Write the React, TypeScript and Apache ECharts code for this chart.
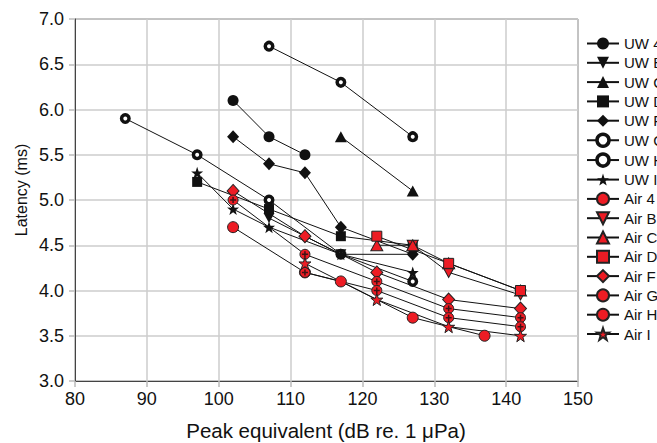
import React, { useEffect, useRef } from "react";
import * as echarts from "echarts";

// Axis settings
const xMin = 80;
const xMax = 150;
const xStep = 10;
const yMin = 3;
const yMax = 7;
const yStep = 0.5;
const xTitle = "Peak equivalent (dB re. 1 \u03bcPa)";
const yTitle = "Latency (ms)";

// Series data: [peak equivalent, latency]
const uw4 = [[102, 6.1], [107, 5.7], [112, 5.5]];
const uwB = [[107, 4.8], [117, 4.4], [127, 4.4]];
const uwC = [[117, 5.7], [127, 5.1]];
const uwD = [[97, 5.2], [107, 4.9], [117, 4.6], [127, 4.5]];
const uwF = [[102, 5.7], [107, 5.4], [112, 5.3], [117, 4.7], [127, 4.4]];
const uwG = [[107, 6.7], [117, 6.3], [127, 5.7]];
const uwH = [[87, 5.9], [97, 5.5], [107, 5.0], [117, 4.4], [127, 4.1]];
const uwI = [[97, 5.3], [102, 4.9], [107, 4.7], [117, 4.4], [127, 4.2]];
const air4 = [[102, 4.7], [112, 4.2], [117, 4.1], [127, 3.7], [137, 3.5]];
const airB = [[127, 4.5], [132, 4.2], [142, 3.95]];
const airC = [[122, 4.5], [127, 4.5], [132, 4.3], [142, 4.0]];
const airD = [[122, 4.6], [132, 4.3], [142, 4.0]];
const airF = [[102, 5.1], [112, 4.6], [122, 4.2], [132, 3.9], [142, 3.8]];
const airG = [[102, 5.0], [112, 4.4], [122, 4.1], [132, 3.8], [142, 3.7]];
const airH = [[112, 4.2], [122, 4.0], [132, 3.7], [142, 3.6]];
const airI = [[112, 4.3], [122, 3.9], [132, 3.6], [142, 3.5]];

const STAR =
  "path://M50,0 L61.8,35.1 L97.6,34.5 L69.1,56.7 L79.4,90.5 L50,70 L20.6,90.5 L30.9,56.7 L2.4,34.5 L38.2,35.1 Z";
const DOWN = "path://M0,0 L10,0 L5,9 Z";
const PLUS = "path://M3,0 H5 V3 H8 V5 H5 V8 H3 V5 H0 V3 H3 Z";

const FONT = "'Liberation Sans', Arial, Helvetica, sans-serif";
const BLACK = "#111111";
const RED = "#ed1c24";

type Def = { name: string; data: number[][]; symbol: string; size: number | number[]; kind: "black" | "hollow" | "red" };

const defs: Def[] = [
  { name: "UW 4", data: uw4, symbol: "circle", size: 11, kind: "black" },
  { name: "UW B", data: uwB, symbol: DOWN, size: [11, 10], kind: "black" },
  { name: "UW C", data: uwC, symbol: "triangle", size: [12, 11], kind: "black" },
  { name: "UW D", data: uwD, symbol: "rect", size: 10, kind: "black" },
  { name: "UW F", data: uwF, symbol: "diamond", size: [12, 13], kind: "black" },
  { name: "UW G", data: uwG, symbol: "circle", size: 7.5, kind: "hollow" },
  { name: "UW H", data: uwH, symbol: "circle", size: 7.5, kind: "hollow" },
  { name: "UW I", data: uwI, symbol: STAR, size: 12, kind: "black" },
  { name: "Air 4", data: air4, symbol: "circle", size: 11, kind: "red" },
  { name: "Air B", data: airB, symbol: DOWN, size: [11, 10], kind: "red" },
  { name: "Air C", data: airC, symbol: "triangle", size: [12, 11], kind: "red" },
  { name: "Air D", data: airD, symbol: "rect", size: 10, kind: "red" },
  { name: "Air F", data: airF, symbol: "diamond", size: [12, 13], kind: "red" },
  { name: "Air G", data: airG, symbol: "circle", size: 10, kind: "red" },
  { name: "Air H", data: airH, symbol: "circle", size: 10, kind: "red" },
  { name: "Air I", data: airI, symbol: STAR, size: 12, kind: "red" },
];

const plusOverlays = [
  { data: airG, color: BLACK },
  { data: airH, color: BLACK },
];

export default function App() {
  const ref = useRef<HTMLDivElement>(null);

  useEffect(() => {
    if (!ref.current) return;
    const chart = echarts.init(ref.current, undefined, { renderer: "svg" });

    const series: any[] = defs.map((d) => {
      const itemStyle =
        d.kind === "black"
          ? { color: BLACK, borderColor: BLACK, borderWidth: 0 }
          : d.kind === "hollow"
          ? { color: "#ffffff", borderColor: BLACK, borderWidth: 3.5 }
          : { color: RED, borderColor: "#222222", borderWidth: 1 };
      return {
        type: "line",
        name: d.name,
        data: d.data,
        symbol: d.symbol,
        symbolSize: d.size,
        showSymbol: true,
        showAllSymbol: true,
        lineStyle: { color: BLACK, width: 1 },
        itemStyle,
        emphasis: { disabled: true },
      };
    });

    plusOverlays.forEach((p, i) => {
      series.push({
        type: "scatter",
        name: "plus" + i,
        data: p.data,
        symbol: PLUS,
        symbolSize: 6,
        itemStyle: { color: p.color },
        silent: true,
        emphasis: { disabled: true },
        z: 3,
      });
    });

    const legendData = defs.map((d) =>
      d.kind === "hollow"
        ? { name: d.name, itemStyle: { color: "#ffffff", borderColor: BLACK, borderWidth: 3.5 } }
        : { name: d.name }
    );

    chart.setOption({
      animation: false,
      backgroundColor: "#ffffff",
      grid: {
        left: 75,
        right: 79,
        top: 19,
        bottom: 62,
        show: true,
        borderColor: "#555555",
        borderWidth: 1,
        backgroundColor: "transparent",
      },
      legend: {
        orient: "vertical",
        left: 586,
        top: 36,
        padding: 0,
        itemWidth: 32,
        itemHeight: 15,
        itemGap: 4.3,
        data: legendData,
        textStyle: { fontSize: 15, lineHeight: 12, color: BLACK, fontFamily: FONT },
        selectedMode: false,
      },
      xAxis: {
        type: "value",
        min: xMin,
        max: xMax,
        interval: xStep,
        axisLine: { show: true, lineStyle: { color: "#444444", width: 1 } },
        axisTick: { show: true, inside: false, length: 6, lineStyle: { color: "#bbbbbb", width: 1.5 } },
        splitLine: { show: true, lineStyle: { color: "#cccccc", width: 1.5 } },
        axisLabel: { fontSize: 18, color: BLACK, fontFamily: FONT, margin: 9 },
      },
      yAxis: {
        type: "value",
        min: yMin,
        max: yMax,
        interval: yStep,
        axisLine: { show: true, lineStyle: { color: "#444444", width: 1 } },
        axisTick: { show: true, inside: false, length: 6, lineStyle: { color: "#bbbbbb", width: 1.5 } },
        splitLine: { show: true, lineStyle: { color: "#cccccc", width: 1.5 } },
        axisLabel: {
          fontSize: 18,
          color: BLACK,
          fontFamily: FONT,
          margin: 11,
          formatter: (v: number) => v.toFixed(1),
        },
      },
      graphic: [
        {
          type: "text",
          x: 326,
          y: 430,
          style: {
            text: xTitle,
            font: `20.5px ${FONT}`,
            fill: BLACK,
            textAlign: "center",
            textVerticalAlign: "middle",
          },
        },
        {
          type: "text",
          x: 21,
          y: 190,
          rotation: Math.PI / 2,
          style: {
            text: yTitle,
            font: `16px ${FONT}`,
            fill: BLACK,
            textAlign: "center",
            textVerticalAlign: "middle",
          },
        },
      ],
      series,
    });

    return () => chart.dispose();
  }, []);

  return (
    <div
      ref={ref}
      style={{ position: "absolute", left: 0, top: 0, width: 657, height: 443, background: "#fff" }}
    />
  );
}
